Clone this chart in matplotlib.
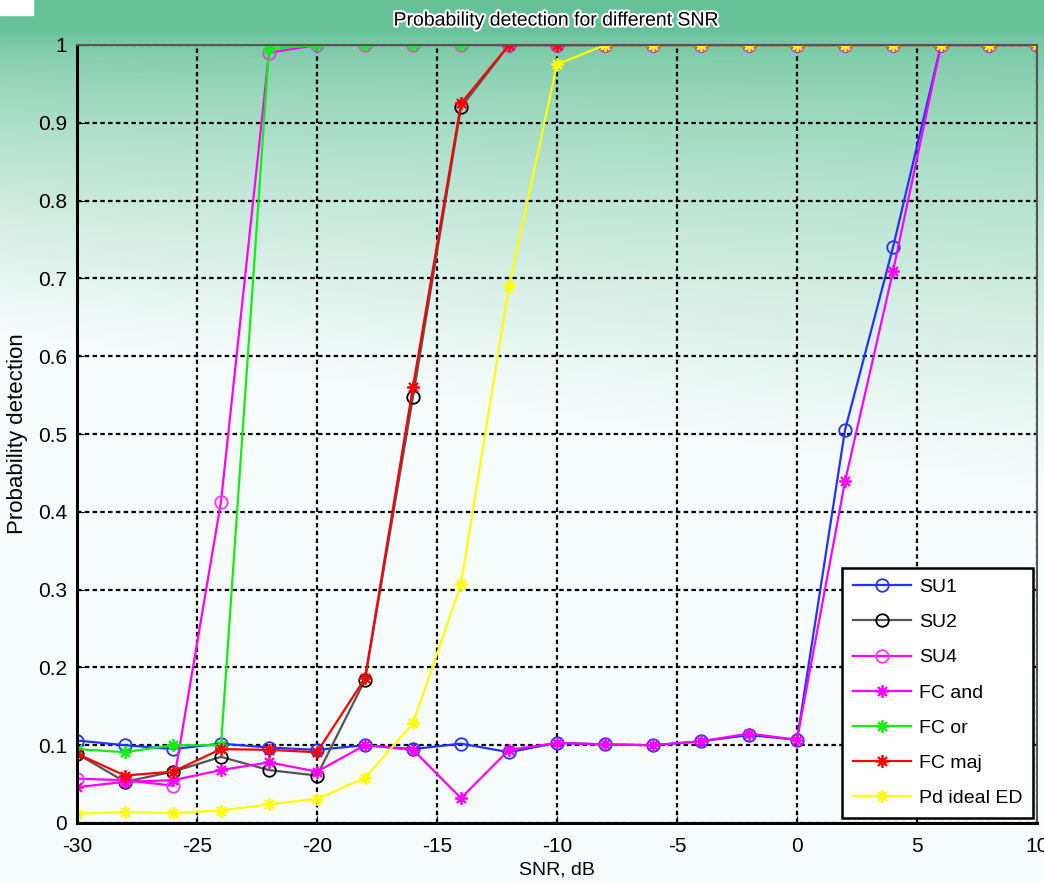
import numpy as np
import matplotlib
matplotlib.use("Agg")
import matplotlib.pyplot as plt
import matplotlib.patheffects as pe
from matplotlib.patches import Rectangle

# data
snr = [-30, -28, -26, -24, -22, -20, -18, -16, -14, -12, -10,
       -8, -6, -4, -2, 0, 2, 4, 6, 8, 10]

su1 = [0.106, 0.100, 0.095, 0.102, 0.097, 0.094, 0.100, 0.095, 0.102, 0.091, 0.103,
       0.101, 0.100, 0.105, 0.113, 0.107, 0.505, 0.740, 1.0, 1.0, 1.0]
su2 = [0.089, 0.053, 0.066, 0.085, 0.068, 0.061, 0.184, 0.548, 0.920, 1.0, 1.0,
       1.0, 1.0, 1.0, 1.0, 1.0, 1.0, 1.0, 1.0, 1.0, 1.0]
su4 = [0.057, 0.055, 0.048, 0.413, 0.990, 1.0, 1.0, 1.0, 1.0, 1.0, 1.0,
       1.0, 1.0, 1.0, 1.0, 1.0, 1.0, 1.0, 1.0, 1.0, 1.0]
fc_and = [0.046, 0.053, 0.055, 0.068, 0.078, 0.066, 0.100, 0.094, 0.032, 0.094, 0.103,
          0.101, 0.100, 0.105, 0.115, 0.107, 0.439, 0.709, 1.0, 1.0, 1.0]
fc_or = [0.095, 0.091, 0.100, 0.100, 0.995, 1.0, 1.0, 1.0, 1.0, 1.0, 1.0,
         1.0, 1.0, 1.0, 1.0, 1.0, 1.0, 1.0, 1.0, 1.0, 1.0]
fc_maj = [0.089, 0.061, 0.066, 0.095, 0.094, 0.091, 0.186, 0.561, 0.925, 1.0, 1.0,
          1.0, 1.0, 1.0, 1.0, 1.0, 1.0, 1.0, 1.0, 1.0, 1.0]
pd_ideal = [0.012, 0.014, 0.013, 0.016, 0.024, 0.031, 0.058, 0.128, 0.307, 0.690, 0.975,
            1.0, 1.0, 1.0, 1.0, 1.0, 1.0, 1.0, 1.0, 1.0, 1.0]

plt.rcParams['font.family'] = ['Liberation Sans', 'DejaVu Sans']
plt.rcParams['axes.unicode_minus'] = False

fig = plt.figure(figsize=(10.44, 8.82), dpi=100)

# green slide background fading to white
bg = fig.add_axes([0, 0, 1, 1], zorder=-10)
h, w = 200, 240
yy, xx = np.mgrid[0:h, 0:w]
ypx = yy * 882 / h
xpx = xx * 1044 / w
t = np.clip((ypx - 30) / (300 + 0.15 * xpx), 0, 1) ** 0.6
green = np.array([0.40, 0.76, 0.60])
white = np.array([0.97, 0.99, 0.99])
img = green[None, None, :] * (1 - t[..., None]) + white[None, None, :] * t[..., None]
bg.imshow(img, aspect='auto', interpolation='bilinear', extent=[0, 1, 0, 1])
bg.axis('off')
fig.patches.append(Rectangle((0, 1 - 15 / 882), 33 / 1044, 15 / 882,
                             transform=fig.transFigure, color='white', zorder=5))

ax = fig.add_axes([77 / 1044, 59 / 882, 960 / 1044, 778 / 882])
ax.set_facecolor('none')

star = (8, 2, 0)
ax.plot(snr, su1, color='#2233ff', lw=1.6, marker='o', mfc='none', mec='#2233ff', ms=9, mew=1.3, label='SU1')
ax.plot(snr, su2, color='#555555', lw=1.6, marker='o', mfc='none', mec='black', ms=9, mew=1.3, label='SU2')
ax.plot(snr, su4, color='#ff00ff', lw=1.6, marker='o', mfc='none', mec='#ff33ff', ms=9, mew=1.3, label='SU4')
ax.plot(snr, fc_and, color='#ff00ff', lw=1.6, marker=star, ms=9, mew=1.3, label='FC and')
ax.plot(snr, fc_or, color='#11ee11', lw=1.6, marker=star, ms=9, mew=1.3, label='FC or')
ax.plot(snr, fc_maj, color='#ff0000', lw=1.6, marker=star, ms=9, mew=1.3, label='FC maj')
ax.plot(snr, pd_ideal, color='#ffff00', lw=1.6, marker=star, ms=9, mew=1.3, label='Pd ideal ED')

ax.set_xlim(-30, 10)
ax.set_ylim(0, 1)
ax.set_xticks([-30, -25, -20, -15, -10, -5, 0, 5, 10])
ax.set_yticks([0, 0.1, 0.2, 0.3, 0.4, 0.5, 0.6, 0.7, 0.8, 0.9, 1])
ax.set_yticklabels(['0', '0.1', '0.2', '0.3', '0.4', '0.5', '0.6', '0.7', '0.8', '0.9', '1'])
ax.tick_params(direction='in', length=5, labelsize=15)
ax.tick_params(axis='x', pad=10)
ax.tick_params(axis='y', pad=7)
ax.grid(True, color='black', linestyle=(0, (2, 1.5)), lw=1.6)
ax.set_axisbelow(True)
for s in ['left', 'bottom']:
    ax.spines[s].set_linewidth(2.2)
    ax.spines[s].set_color('black')
for s in ['top', 'right']:
    ax.spines[s].set_linewidth(1.5)
    ax.spines[s].set_color('#555555')

ax.set_title('Probability detection for different SNR', fontsize=14, pad=14,
             path_effects=[pe.withStroke(linewidth=3, foreground='white')])
ax.set_xlabel('SNR, dB', fontsize=14, labelpad=4)
ax.set_ylabel('Probability detection', fontsize=16, labelpad=7)

leg = ax.legend(loc='lower right', bbox_to_anchor=(0.996, 0.007), borderaxespad=0,
                fontsize=14, fancybox=False, edgecolor='black', framealpha=1,
                handlelength=3.0, handletextpad=0.4, labelspacing=0.9, borderpad=0.55)
leg.get_frame().set_linewidth(1.8)

fig.savefig('out.png', dpi=100)
